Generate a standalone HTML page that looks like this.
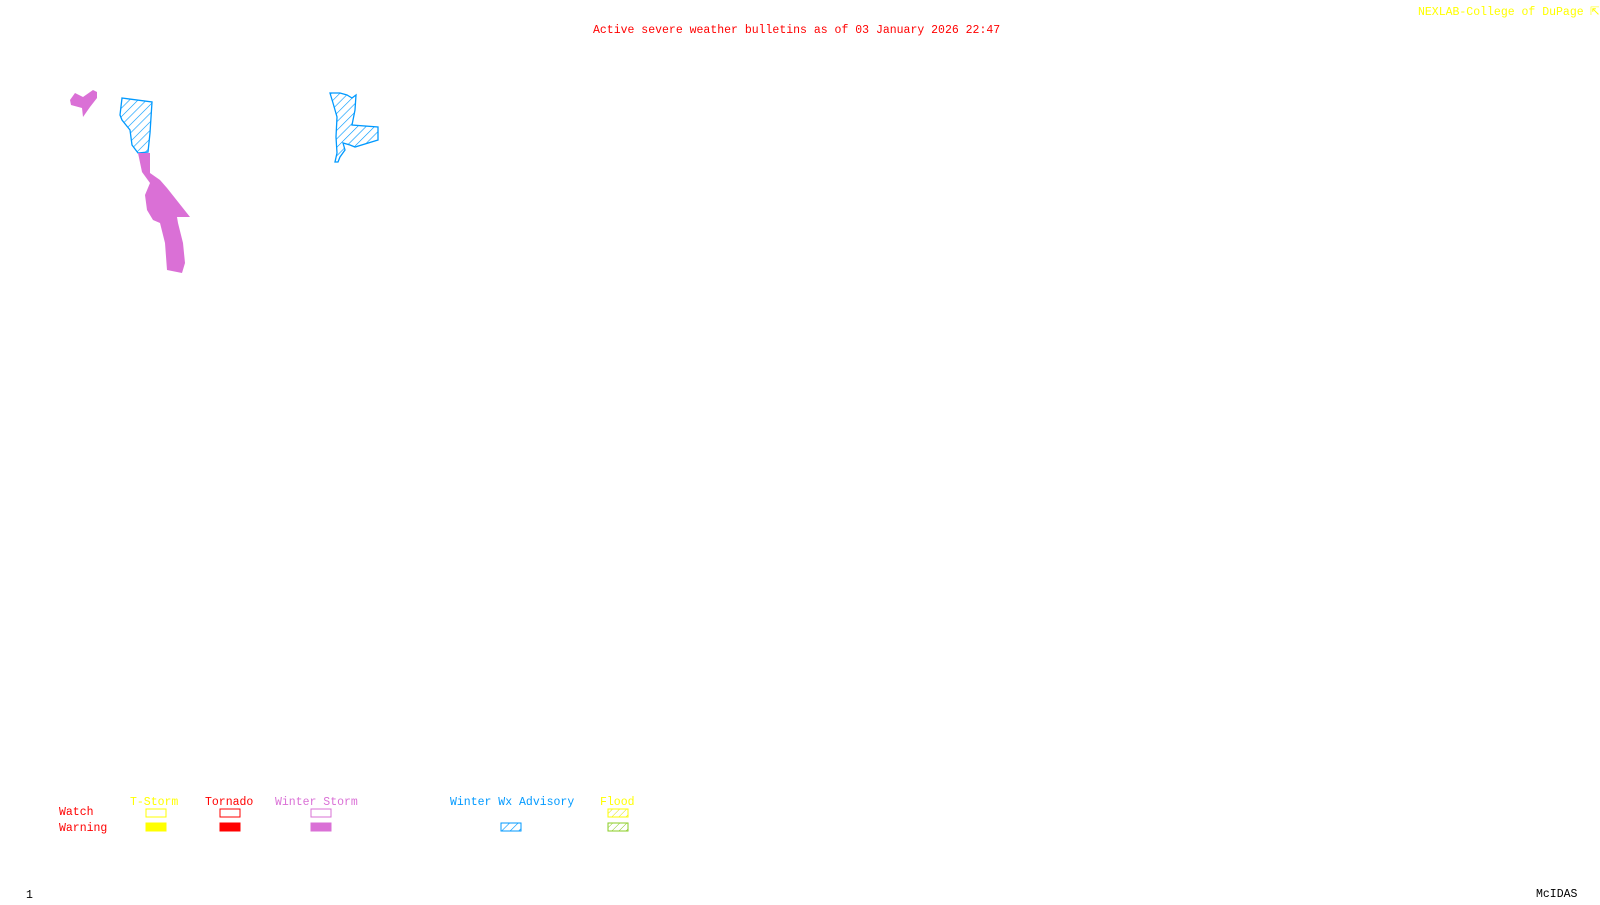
<!DOCTYPE html><html><head><style>
body{margin:0;width:1600px;height:900px;background:#fff;overflow:hidden}
svg text{font-family:"Liberation Mono",monospace;font-size:11.5px}
</style></head><body>
<svg width="1600" height="900" xmlns="http://www.w3.org/2000/svg">
<defs><pattern id="h" width="6" height="6" patternUnits="userSpaceOnUse" patternTransform="rotate(45)"><line x1="0" y1="0" x2="0" y2="6" stroke="#0099ff" stroke-width="1.2"/></pattern>
<pattern id="hy" width="5" height="5" patternUnits="userSpaceOnUse" patternTransform="rotate(45)"><line x1="0" y1="0" x2="0" y2="5" stroke="#e0e000" stroke-width="1"/></pattern>
<pattern id="hg" width="5" height="5" patternUnits="userSpaceOnUse" patternTransform="rotate(45)"><line x1="0" y1="0" x2="0" y2="5" stroke="#88cc22" stroke-width="1"/></pattern></defs>
<text x="1418" y="15" fill="#ffff00">NEXLAB-College of DuPage</text>
<text x="1590" y="15" fill="#ffff00">⇱</text>
<text x="593" y="33" fill="#ff0000">Active severe weather bulletins as of 03 January 2026 22:47</text>
<polygon fill="#da70d6" points="70,100 75,93 83,97 93,90 97,92 97,98 90,107 83,117 82,108 71,105"/>
<polygon fill="url(#h)" stroke="#0099ff" stroke-width="1.3" points="122,98 152,102 150,133 148,152 138,153 132,145 130,130 122,120 120,115"/>
<polygon fill="#da70d6" points="138,153 150,153 150,173 160,180 167,188 190,217 177,217 178,223 183,243 185,263 182,273 167,270 165,243 160,223 153,220 147,210 145,195 150,183 142,172"/>
<polygon fill="url(#h)" stroke="#0099ff" stroke-width="1.3" points="330,93 340,93 347,95 352,98 356,95 355,110 352,125 378,127 378,140 355,147 350,145 343,143 345,150 340,157 338,162 335,162 337,153 336,137 337,117 333,103"/>
<text x="130" y="805" fill="#ffff00">T-Storm</text>
<text x="205" y="805" fill="#ff0000">Tornado</text>
<text x="275" y="805" fill="#da70d6">Winter Storm</text>
<text x="450" y="805" fill="#0099ff">Winter Wx Advisory</text>
<text x="600" y="805" fill="#ffff00">Flood</text>
<text x="59" y="815" fill="#ff0000">Watch</text>
<text x="59" y="831" fill="#ff0000">Warning</text>
<rect x="146" y="809" width="20" height="8" fill="none" stroke="#ffff00"/>
<rect x="220" y="809" width="20" height="8" fill="none" stroke="#ff0000"/>
<rect x="311" y="809" width="20" height="8" fill="none" stroke="#da70d6"/>
<rect x="608" y="809" width="20" height="8" fill="url(#hy)" stroke="#ffff00"/>
<rect x="146" y="823" width="20" height="8" fill="#ffff00" stroke="#ffff00"/>
<rect x="220" y="823" width="20" height="8" fill="#ff0000" stroke="#ff0000"/>
<rect x="311" y="823" width="20" height="8" fill="#da70d6" stroke="#da70d6"/>
<rect x="501" y="823" width="20" height="8" fill="url(#h)" stroke="#0099ff"/>
<rect x="608" y="823" width="20" height="8" fill="url(#hg)" stroke="#88cc22"/>
<text x="26" y="898" fill="#000" font-size="10">1</text>
<text x="1536" y="897" fill="#000">McIDAS</text>
</svg></body></html>
